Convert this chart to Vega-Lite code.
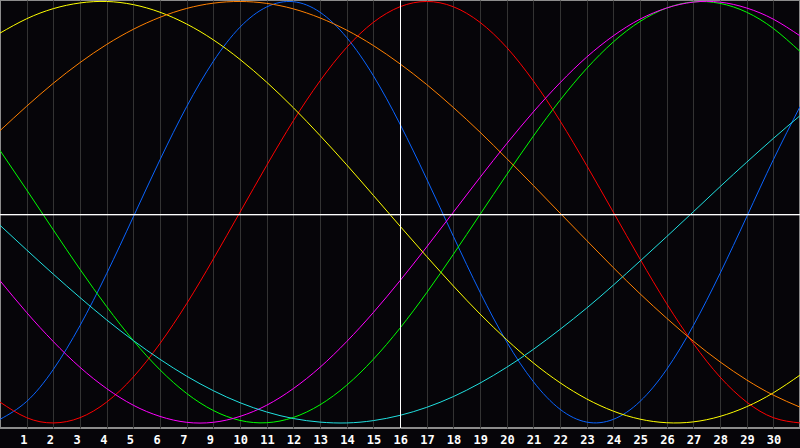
{
  "$schema": "https://vega.github.io/schema/vega-lite/v6.json",
  "width": 800,
  "height": 428,
  "autosize": {"type": "none"},
  "padding": {"left": 0, "top": 0, "right": 0, "bottom": 20},
  "background": "#060509",
  "config": {
    "view": {"stroke": "#8c8c8c", "strokeWidth": 2, "fill": "#060509"}
  },
  "data": {
    "values": [
      {"day": 0, "Physical": -0.983, "Emotional": -0.901, "Intellectual": 0.293, "Intuitive": -0.325, "Aesthetic": 0.850, "Awareness": 0.387, "Spiritual": -0.062},
      {"day": 1, "Physical": -0.898, "Emotional": -0.975, "Intellectual": 0.106, "Intuitive": -0.476, "Aesthetic": 0.918, "Awareness": 0.503, "Spiritual": -0.179},
      {"day": 2, "Physical": -0.746, "Emotional": -1.000, "Intellectual": -0.084, "Intuitive": -0.614, "Aesthetic": 0.966, "Awareness": 0.612, "Spiritual": -0.294},
      {"day": 3, "Physical": -0.538, "Emotional": -0.975, "Intellectual": -0.271, "Intuitive": -0.736, "Aesthetic": 0.993, "Awareness": 0.710, "Spiritual": -0.405},
      {"day": 4, "Physical": -0.291, "Emotional": -0.901, "Intellectual": -0.448, "Intuitive": -0.837, "Aesthetic": 1.000, "Awareness": 0.796, "Spiritual": -0.511},
      {"day": 5, "Physical": -0.022, "Emotional": -0.782, "Intellectual": -0.609, "Intuitive": -0.916, "Aesthetic": 0.985, "Awareness": 0.868, "Spiritual": -0.609},
      {"day": 6, "Physical": 0.249, "Emotional": -0.623, "Intellectual": -0.748, "Intuitive": -0.969, "Aesthetic": 0.949, "Awareness": 0.925, "Spiritual": -0.698},
      {"day": 7, "Physical": 0.501, "Emotional": -0.434, "Intellectual": -0.860, "Intuitive": -0.997, "Aesthetic": 0.893, "Awareness": 0.967, "Spiritual": -0.778},
      {"day": 8, "Physical": 0.716, "Emotional": -0.222, "Intellectual": -0.941, "Intuitive": -0.997, "Aesthetic": 0.818, "Awareness": 0.992, "Spiritual": -0.847},
      {"day": 9, "Physical": 0.878, "Emotional": 0.000, "Intellectual": -0.988, "Intuitive": -0.969, "Aesthetic": 0.725, "Awareness": 1.000, "Spiritual": -0.904},
      {"day": 10, "Physical": 0.974, "Emotional": 0.222, "Intellectual": -0.999, "Intuitive": -0.916, "Aesthetic": 0.617, "Awareness": 0.991, "Spiritual": -0.948},
      {"day": 11, "Physical": 0.999, "Emotional": 0.434, "Intellectual": -0.974, "Intuitive": -0.837, "Aesthetic": 0.496, "Awareness": 0.965, "Spiritual": -0.979},
      {"day": 12, "Physical": 0.949, "Emotional": 0.623, "Intellectual": -0.914, "Intuitive": -0.736, "Aesthetic": 0.364, "Awareness": 0.922, "Spiritual": -0.996},
      {"day": 13, "Physical": 0.829, "Emotional": 0.782, "Intellectual": -0.821, "Intuitive": -0.614, "Aesthetic": 0.225, "Awareness": 0.864, "Spiritual": -1.000},
      {"day": 14, "Physical": 0.648, "Emotional": 0.901, "Intellectual": -0.698, "Intuitive": -0.476, "Aesthetic": 0.080, "Awareness": 0.791, "Spiritual": -0.989},
      {"day": 15, "Physical": 0.418, "Emotional": 0.975, "Intellectual": -0.550, "Intuitive": -0.325, "Aesthetic": -0.066, "Awareness": 0.704, "Spiritual": -0.964},
      {"day": 16, "Physical": 0.158, "Emotional": 1.000, "Intellectual": -0.382, "Intuitive": -0.165, "Aesthetic": -0.210, "Awareness": 0.606, "Spiritual": -0.926},
      {"day": 17, "Physical": -0.114, "Emotional": 0.975, "Intellectual": -0.200, "Intuitive": 0.000, "Aesthetic": -0.350, "Awareness": 0.497, "Spiritual": -0.875},
      {"day": 18, "Physical": -0.379, "Emotional": 0.901, "Intellectual": -0.011, "Intuitive": 0.165, "Aesthetic": -0.483, "Awareness": 0.380, "Spiritual": -0.811},
      {"day": 19, "Physical": -0.615, "Emotional": 0.782, "Intellectual": 0.178, "Intuitive": 0.325, "Aesthetic": -0.605, "Awareness": 0.255, "Spiritual": -0.736},
      {"day": 20, "Physical": -0.804, "Emotional": 0.623, "Intellectual": 0.361, "Intuitive": 0.476, "Aesthetic": -0.715, "Awareness": 0.127, "Spiritual": -0.651},
      {"day": 21, "Physical": -0.935, "Emotional": 0.434, "Intellectual": 0.531, "Intuitive": 0.614, "Aesthetic": -0.809, "Awareness": -0.004, "Spiritual": -0.556},
      {"day": 22, "Physical": -0.996, "Emotional": 0.222, "Intellectual": 0.682, "Intuitive": 0.736, "Aesthetic": -0.886, "Awareness": -0.134, "Spiritual": -0.455},
      {"day": 23, "Physical": -0.983, "Emotional": 0.000, "Intellectual": 0.808, "Intuitive": 0.837, "Aesthetic": -0.944, "Awareness": -0.263, "Spiritual": -0.346},
      {"day": 24, "Physical": -0.898, "Emotional": -0.222, "Intellectual": 0.905, "Intuitive": 0.916, "Aesthetic": -0.982, "Awareness": -0.387, "Spiritual": -0.232},
      {"day": 25, "Physical": -0.746, "Emotional": -0.434, "Intellectual": 0.969, "Intuitive": 0.969, "Aesthetic": -0.999, "Awareness": -0.503, "Spiritual": -0.116},
      {"day": 26, "Physical": -0.538, "Emotional": -0.623, "Intellectual": 0.998, "Intuitive": 0.997, "Aesthetic": -0.995, "Awareness": -0.612, "Spiritual": 0.002},
      {"day": 27, "Physical": -0.291, "Emotional": -0.782, "Intellectual": 0.991, "Intuitive": 0.997, "Aesthetic": -0.969, "Awareness": -0.710, "Spiritual": 0.121},
      {"day": 28, "Physical": -0.022, "Emotional": -0.901, "Intellectual": 0.949, "Intuitive": 0.969, "Aesthetic": -0.923, "Awareness": -0.796, "Spiritual": 0.237},
      {"day": 29, "Physical": 0.249, "Emotional": -0.975, "Intellectual": 0.872, "Intuitive": 0.916, "Aesthetic": -0.857, "Awareness": -0.868, "Spiritual": 0.350},
      {"day": 30, "Physical": 0.501, "Emotional": -1.000, "Intellectual": 0.763, "Intuitive": 0.837, "Aesthetic": -0.773, "Awareness": -0.925, "Spiritual": 0.458}
    ]
  },
  "encoding": {
    "x": {
      "field": "day",
      "type": "quantitative",
      "title": null,
      "scale": {"domain": [0, 30], "nice": false, "zero": false},
      "axis": {
        "values": [1,2,3,4,5,6,7,8,9,10,11,12,13,14,15,16,17,18,19,20,21,22,23,24,25,26,27,28,29],
        "labelExpr": "datum.value < 8 ? datum.value : datum.value + 1",
        "domain": false,
        "ticks": false,
        "tickSize": 0,
        "grid": true,
        "gridColor": "#333333",
        "gridWidth": 1,
        "labelColor": "#ffffff",
        "labelFont": "DejaVu Sans Mono",
        "labelFontWeight": "bold",
        "labelFontSize": 12,
        "labelAlign": "left",
        "labelOffset": -7,
        "labelBaseline": "alphabetic",
        "labelPadding": 15,
        "labelOverlap": false,
        "labelFlush": false
      }
    }
  },
  "layer": [
    {
      "transform": [
        {"fold": ["Physical", "Emotional", "Intellectual", "Intuitive", "Aesthetic", "Awareness", "Spiritual"], "as": ["cycle", "value"]}
      ],
      "mark": {"type": "line", "strokeWidth": 1, "interpolate": "natural", "clip": true},
      "encoding": {
        "y": {
          "field": "value",
          "type": "quantitative",
          "scale": {"domain": [-1.024, 1.007], "nice": false, "zero": false},
          "axis": null
        },
        "color": {
          "field": "cycle",
          "type": "nominal",
          "scale": {
            "domain": ["Spiritual", "Awareness", "Aesthetic", "Intuitive", "Intellectual", "Emotional", "Physical"],
            "range": ["#20e0e0", "#ff8000", "#ffff00", "#ff00ff", "#00ff00", "#ff0000", "#0a64ff"]
          },
          "legend": null
        }
      }
    },
    {
      "mark": {"type": "rule", "color": "#ffffff", "strokeWidth": 1},
      "encoding": {"y": {"datum": -0.011, "type": "quantitative"}, "x": {"value": 0}, "x2": {"value": 800}}
    },
    {
      "mark": {"type": "rule", "color": "#ffffff", "strokeWidth": 1},
      "encoding": {"x": {"datum": 15.019, "type": "quantitative"}}
    }
  ]
}
